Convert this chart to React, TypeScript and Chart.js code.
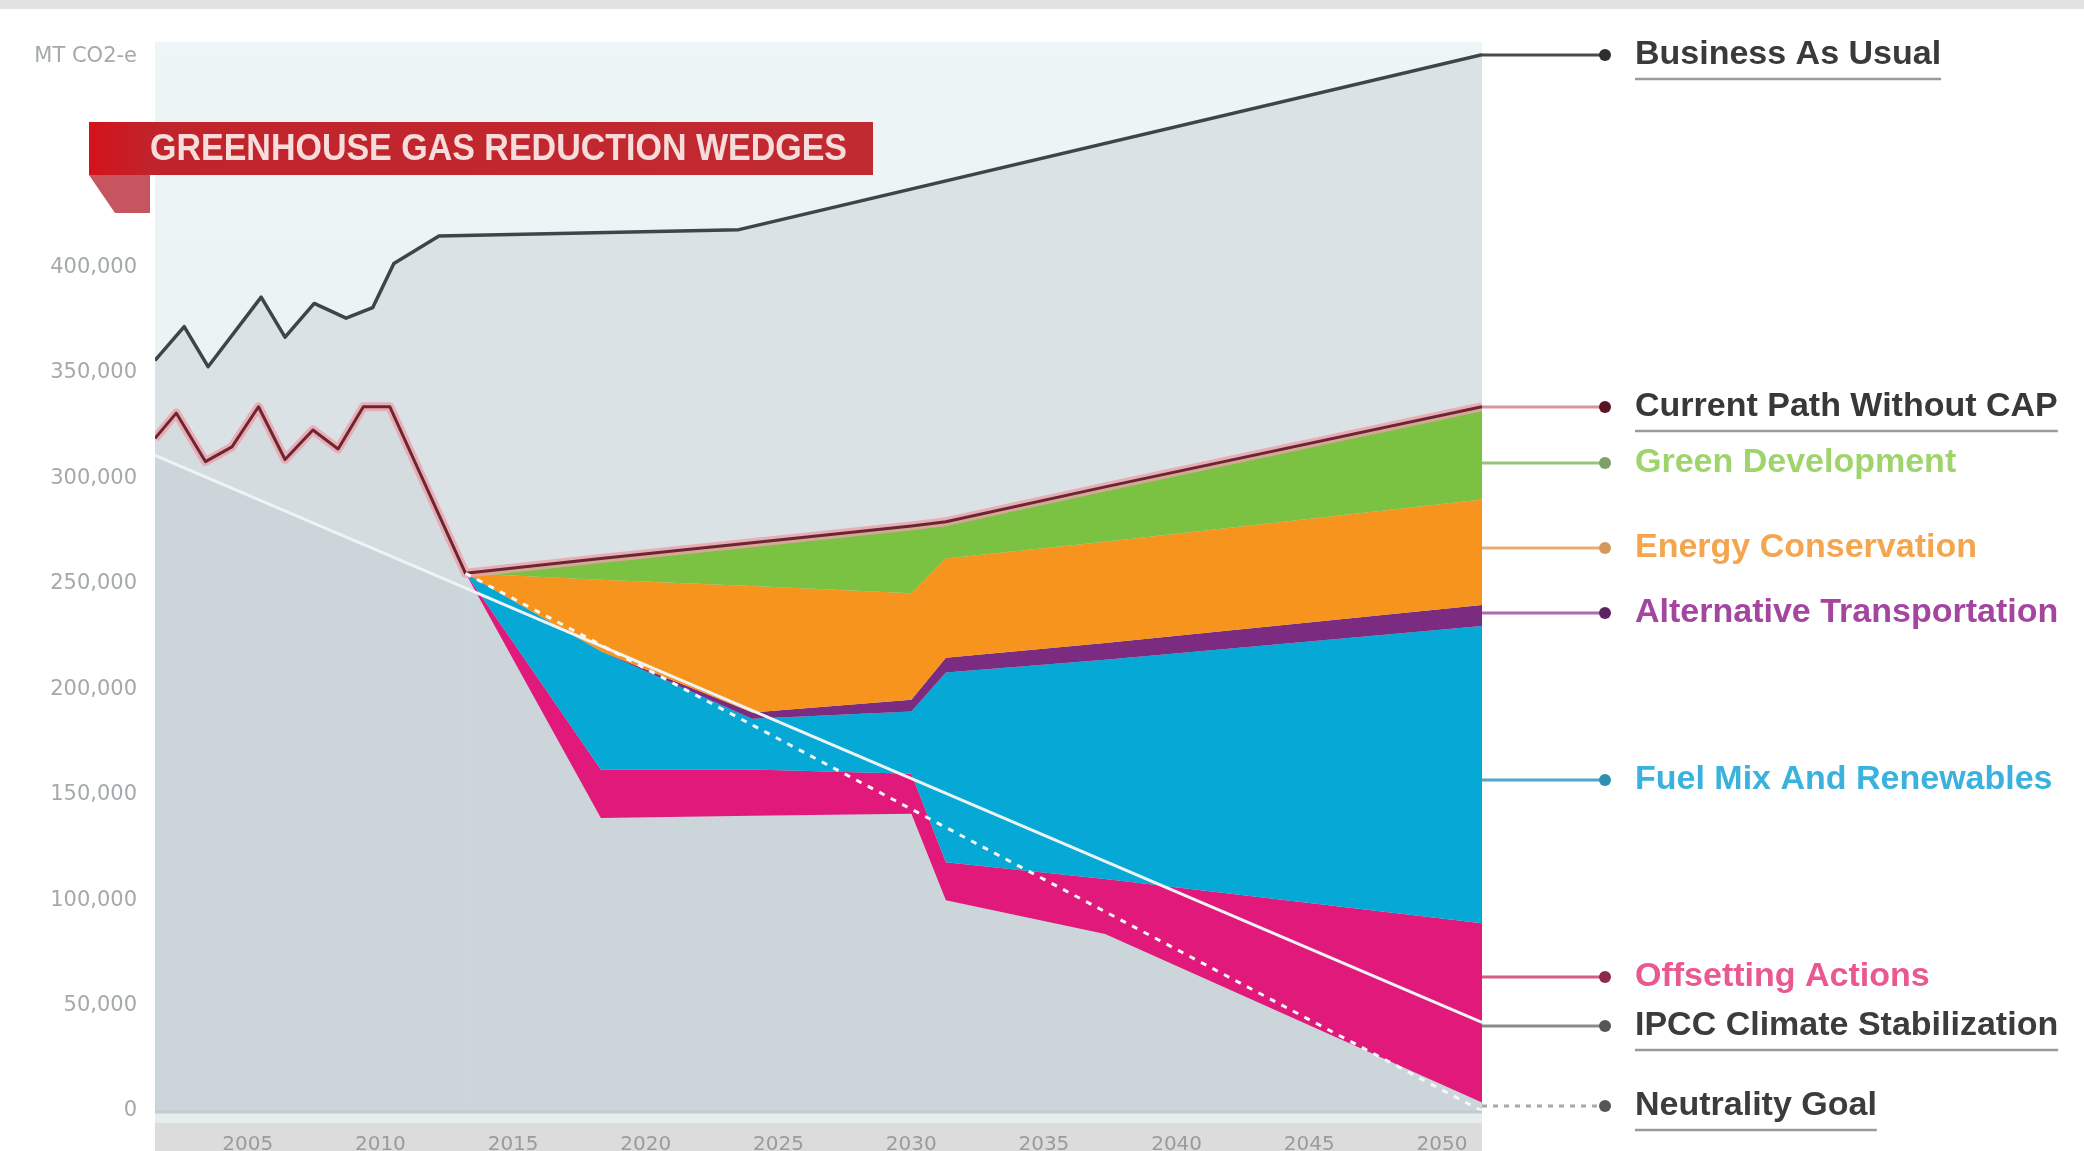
import React, { useEffect, useRef } from "react";
import { Chart, registerables } from "chart.js";

Chart.register(...registerables);

// ---------- data (years on x, MT CO2-e on y) ----------
const bauYears = [2000, 2001.1, 2002.0, 2004.0, 2004.9, 2006.0, 2007.2, 2008.2, 2009.0, 2010.7, 2022.0, 2050];
const businessAsUsual = [356000, 372000, 353000, 386000, 367000, 383000, 376000, 381000, 402000, 415000, 418000, 501000];

const historyYears = [2000, 2000.8, 2001.9, 2002.9, 2003.9, 2004.9, 2005.95, 2006.9, 2007.85, 2008.85, 2011.7];
const currentPathHistory = [319000, 331000, 308000, 315000, 334000, 309000, 323000, 314000, 334000, 334000, 255000];

const wedgeYears = [2011.7, 2016.8, 2022.5, 2028.5, 2029.8, 2035.8, 2050];
const remainingEmissions = [255000, 139000, 140000, 141000, 100000, 84000, 4000];
const fuelMixLower = [255000, 162000, 162000, 160000, 118000, 110000, 89000];
const altTransportLower = [255000, 218000, 186000, 189500, 208000, 214000, 230000];
const energyLower = [255000, 218000, 189000, 195000, 215000, 222000, 240000];
const greenLower = [255000, 252000, 249000, 245500, 262000, 270000, 290000];
const currentPathFuture = [255000, 262000, 269500, 277500, 279500, 296000, 334000];

const ipccYears = [2000, 2050];
const ipccValues = [311000, 42000];
const neutralityYears = [2011.7, 2050];
const neutralityValues = [255000, 0];

const xTickYears = [2005, 2010, 2015, 2020, 2025, 2030, 2035, 2040, 2045, 2050];
const yTickValues = [0, 50000, 100000, 150000, 200000, 250000, 300000, 350000, 400000, 500000];
const yUnitLabel = "MT CO2-e";
const titleText = "GREENHOUSE GAS REDUCTION WEDGES";

const legendLabels = [
  "Business As Usual",
  "Current Path Without CAP",
  "Green Development",
  "Energy Conservation",
  "Alternative Transportation",
  "Fuel Mix And Renewables",
  "Offsetting Actions",
  "IPCC Climate Stabilization",
  "Neutrality Goal",
];
const legendAnchorValues = [501000, 334000, 307500, 267000, 236000, 157000, 63500, 40300, 2400];

// ---------- styles ----------
const legendTextColors = ["#3a3a3a", "#383838", "#9fd46c", "#f4a54e", "#a4459f", "#3ab2dd", "#e9588f", "#3c3c3c", "#3c3c3c"];
const legendLineColors = ["#4a4a4a", "#d9959b", "#98c47a", "#e8ab78", "#ad6bad", "#4fa6c6", "#d65b84", "#8a8a8a", "#a8a8a8"];
const legendDotColors = ["#2e2e2e", "#5b1424", "#7f9f69", "#d5995c", "#5c2460", "#2f8fb2", "#8c2a4a", "#555555", "#555555"];
const legendUnderlined = [true, true, false, false, false, false, false, true, true];
const legendDotted = [false, false, false, false, false, false, false, false, true];

const pts = (xs: number[], ys: number[]) => xs.map((x, i) => ({ x, y: ys[i] }));

const decorPlugin = {
  id: "decor",
  beforeDraw(chart: any) {
    const { ctx, chartArea: a, width, height } = chart;
    ctx.save();
    ctx.fillStyle = "#ffffff";
    ctx.fillRect(0, 0, width, height);
    ctx.fillStyle = "#e2e2e2";
    ctx.fillRect(0, 0, width, 9);
    const g = ctx.createLinearGradient(0, a.top, 0, a.bottom);
    g.addColorStop(0, "#eef5f6");
    g.addColorStop(1, "#e4eced");
    ctx.fillStyle = g;
    ctx.fillRect(a.left, a.top, a.right - a.left, a.bottom - a.top);
    ctx.fillStyle = "#e6eded";
    ctx.fillRect(a.left, a.bottom, a.right - a.left, 12);
    ctx.fillStyle = "#dcdcdc";
    ctx.fillRect(a.left, a.bottom + 12, a.right - a.left, height - a.bottom - 12);
    ctx.restore();
  },
  afterDraw(chart: any) {
    const { ctx, chartArea: a } = chart;
    const y = chart.scales.y;
    ctx.save();
    // axis line
    ctx.strokeStyle = "#c3cbce";
    ctx.lineWidth = 3;
    ctx.beginPath();
    ctx.moveTo(a.left, a.bottom + 1);
    ctx.lineTo(a.right, a.bottom + 1);
    ctx.stroke();

    // legend on the right
    const dotX = a.right + 123;
    const textX = a.right + 153;
    ctx.font = 'bold 34px "Liberation Sans", Arial, sans-serif';
    ctx.textBaseline = "middle";
    ctx.textAlign = "left";
    legendLabels.forEach((label, i) => {
      const py = Math.round(y.getPixelForValue(legendAnchorValues[i]));
      ctx.strokeStyle = legendLineColors[i];
      ctx.lineWidth = 3;
      ctx.setLineDash(legendDotted[i] ? [5, 6] : []);
      ctx.beginPath();
      ctx.moveTo(a.right, py);
      ctx.lineTo(dotX, py);
      ctx.stroke();
      ctx.setLineDash([]);
      ctx.fillStyle = legendDotColors[i];
      ctx.beginPath();
      ctx.arc(dotX, py, 6, 0, Math.PI * 2);
      ctx.fill();
      ctx.fillStyle = legendTextColors[i];
      ctx.fillText(label, textX, py);
      if (legendUnderlined[i]) {
        const w = ctx.measureText(label).width;
        ctx.strokeStyle = "#9a9a9a";
        ctx.lineWidth = 2.5;
        ctx.beginPath();
        ctx.moveTo(textX, py + 24);
        ctx.lineTo(textX + w, py + 24);
        ctx.stroke();
      }
    });

    // title banner
    const bx = 89, by = 122, bw = 784, bh = 53;
    const g = ctx.createLinearGradient(bx, 0, bx + bw, 0);
    g.addColorStop(0, "#d4121c");
    g.addColorStop(0.08, "#c1232b");
    g.addColorStop(1, "#c12a31");
    ctx.fillStyle = g;
    ctx.fillRect(bx, by, bw, bh);
    ctx.fillStyle = "#c75560";
    ctx.beginPath();
    ctx.moveTo(bx, by + bh);
    ctx.lineTo(bx + 61, by + bh);
    ctx.lineTo(bx + 61, by + bh + 38);
    ctx.lineTo(bx + 26, by + bh + 38);
    ctx.closePath();
    ctx.fill();
    ctx.fillStyle = "#f7dcdc";
    ctx.font = 'bold 37px "Liberation Sans", Arial, sans-serif';
    ctx.textBaseline = "middle";
    ctx.fillText(titleText, bx + 61, by + bh / 2 + 1, 697);
    ctx.restore();
  },
};

export default function App() {
  const ref = useRef<HTMLCanvasElement>(null);

  useEffect(() => {
    const canvas = ref.current;
    if (!canvas) return;
    const area = (label: string, data: any[], fill: any, color: string, order: number) => ({
      label,
      data,
      fill,
      backgroundColor: color,
      borderColor: "transparent",
      borderWidth: 0,
      pointRadius: 0,
      tension: 0,
      order,
    });
    const line = (label: string, data: any[], color: string, width: number, order: number, dash: number[] = []) => ({
      label,
      data,
      fill: false,
      borderColor: color,
      borderWidth: width,
      borderDash: dash,
      borderJoinStyle: "round",
      pointRadius: 0,
      tension: 0,
      order,
    });

    const currentPathAll = pts(historyYears, currentPathHistory).concat(pts(wedgeYears, currentPathFuture).slice(1));

    const chart = new Chart(canvas, {
      type: "line",
      data: {
        datasets: [
          area("Business As Usual area", pts(bauYears, businessAsUsual), "origin", "#dbe2e5", 40), // 0
          area("Current Path history area", pts(historyYears, currentPathHistory), "origin", "#d4dcdf", 39), // 1
          area("Remaining emissions", pts(wedgeYears, remainingEmissions), "origin", "#d4dcdf", 38), // 2
          area("IPCC area", pts(ipccYears, ipccValues), "origin", "rgba(140,158,166,0.10)", 37), // 3
          area("Offsetting Actions", pts(wedgeYears, fuelMixLower), 2, "#e0197b", 36), // 4
          area("Fuel Mix And Renewables", pts(wedgeYears, altTransportLower), 4, "#06a8d6", 35), // 5
          area("Alternative Transportation", pts(wedgeYears, energyLower), 5, "#7b2b80", 34), // 6
          area("Energy Conservation", pts(wedgeYears, greenLower), 6, "#f7941e", 33), // 7
          area("Green Development", pts(wedgeYears, currentPathFuture), 7, "#7bc243", 32), // 8
          line("Business As Usual", pts(bauYears, businessAsUsual), "#3d4547", 3.5, 6),
          line("Current Path halo", currentPathAll, "rgba(236,160,172,0.8)", 9, 5),
          line("Current Path Without CAP", currentPathAll, "#6b2630", 3, 4),
          line("IPCC Climate Stabilization", pts(ipccYears, ipccValues), "#eef4f6", 3, 3),
          line("Neutrality Goal", pts(neutralityYears, neutralityValues), "#f4f8f9", 3, 2, [6, 7]),
        ],
      },
      options: {
        animation: false,
        responsive: false,
        devicePixelRatio: 1,
        layout: { padding: { top: 42, right: 602, left: 0, bottom: 0 } },
        plugins: {
          legend: { display: false },
          tooltip: { enabled: false },
          filler: { drawTime: "beforeDatasetsDraw" },
        },
        scales: {
          x: {
            type: "linear",
            min: 2000,
            max: 2050,
            grid: { display: false },
            border: { display: false },
            afterBuildTicks: (s: any) => {
              s.ticks = xTickYears.map((v) => ({ value: v }));
            },
            afterFit: (s: any) => {
              s.height = 40;
            },
            ticks: {
              autoSkip: false,
              maxRotation: 0,
              labelOffset: -40,
              padding: 14,
              color: "#9b9b9b",
              font: { family: "DejaVu Sans", size: 20 },
              callback: (v: any) => String(v),
            },
          },
          y: {
            type: "linear",
            min: 0,
            max: 507000,
            grid: { display: false },
            border: { display: false },
            afterBuildTicks: (s: any) => {
              s.ticks = yTickValues.map((v) => ({ value: v }));
            },
            afterFit: (s: any) => {
              s.width = 155;
            },
            ticks: {
              padding: 10,
              color: "#a4a9ac",
              font: { family: "DejaVu Sans", size: 21 },
              callback: (v: any) => (Number(v) === 500000 ? yUnitLabel : Number(v).toLocaleString("en-US")),
            },
          },
        },
      },
      plugins: [decorPlugin],
    } as any);

    return () => chart.destroy();
  }, []);

  return (
    <div style={{ position: "fixed", left: 0, top: 0, width: 2084, height: 1151, background: "#fff" }}>
      <canvas ref={ref} width={2084} height={1151} style={{ display: "block", width: 2084, height: 1151 }} />
    </div>
  );
}
